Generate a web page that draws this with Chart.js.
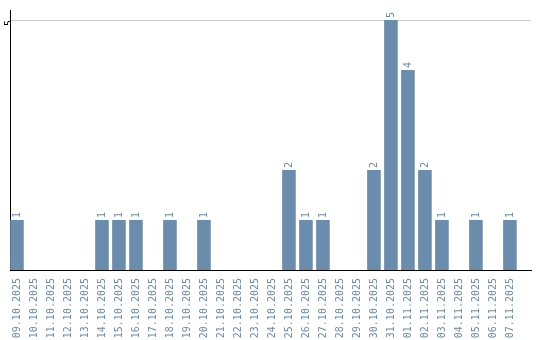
<!DOCTYPE html>
<html>
<head>
<meta charset="utf-8">
<script src="https://cdn.jsdelivr.net/npm/chart.js@4"></script>
<style>
  html, body { margin: 0; padding: 0; background: #fff; overflow: hidden; }
  #wrap { width: 540px; height: 345px; }
</style>
</head>
<body>
<div id="wrap"><canvas id="dayChart"></canvas></div>
<script>
// daily counts
const days = [
  '09.10.2025', '10.10.2025', '11.10.2025', '12.10.2025', '13.10.2025',
  '14.10.2025', '15.10.2025', '16.10.2025', '17.10.2025', '18.10.2025',
  '19.10.2025', '20.10.2025', '21.10.2025', '22.10.2025', '23.10.2025',
  '24.10.2025', '25.10.2025', '26.10.2025', '27.10.2025', '28.10.2025',
  '29.10.2025', '30.10.2025', '31.10.2025', '01.11.2025', '02.11.2025',
  '03.11.2025', '04.11.2025', '05.11.2025', '06.11.2025', '07.11.2025'
];
const counts = [1, 0, 0, 0, 0, 1, 1, 1, 0, 1, 0, 1, 0, 0, 0, 0, 2, 1, 1, 0, 0, 2, 5, 4, 2, 1, 0, 1, 0, 1];
const yTicks = [5];

const barColor = '#6a8cad';
const labelColor = '#6a8bad';
const mono = 'DejaVu Sans Mono';

// rotated value labels above the bars
const valueLabels = {
  id: 'valueLabels',
  afterDatasetsDraw(chart) {
    const ctx = chart.ctx;
    const meta = chart.getDatasetMeta(0);
    ctx.save();
    ctx.font = '10px ' + mono;
    ctx.fillStyle = labelColor;
    ctx.textAlign = 'left';
    ctx.textBaseline = 'middle';
    meta.data.forEach((bar, i) => {
      if (!counts[i]) return;
      ctx.save();
      ctx.translate(bar.x, bar.y - 2);
      ctx.rotate(-Math.PI / 2);
      ctx.fillText(String(counts[i]), 0, 0);
      ctx.restore();
    });
    ctx.restore();
  }
};

const points = counts.map((v, i) => ({ x: i, y: v }));

const ctx1 = document.getElementById('dayChart');
new Chart(ctx1, {
  type: 'bar',
  data: {
    datasets: [{
      data: points,
      backgroundColor: barColor,
      categoryPercentage: 0.8,
      barPercentage: 1
    }]
  },
  options: {
    responsive: true,
    maintainAspectRatio: false,
    animation: false,
    layout: { padding: { top: 10, right: 9, left: 0, bottom: 0 } },
    plugins: { legend: { display: false }, tooltip: { enabled: false } },
    scales: {
      x: {
        type: 'linear',
        offset: false,
        min: -0.41,
        max: 30.24,
        afterBuildTicks(axis) {
          axis.ticks = days.map((d, i) => ({ value: i }));
        },
        afterFit(axis) { axis.height = 75; },
        grid: { display: false },
        border: { color: '#000', width: 1 },
        ticks: {
          color: labelColor,
          font: { family: mono, size: 10 },
          minRotation: 90,
          maxRotation: 90,
          autoSkip: false,
          padding: 0,
          callback: (v) => days[v]
        }
      },
      y: {
        min: 0,
        max: 5.2,
        afterBuildTicks(axis) {
          axis.ticks = yTicks.map(v => ({ value: v }));
        },
        afterFit(axis) { axis.width = 10; },
        grid: { color: '#cccccc', drawTicks: false },
        border: { color: '#000', width: 1 },
        ticks: {
          color: '#000',
          font: { family: mono, size: 10 },
          minRotation: 90,
          maxRotation: 90,
          padding: 1
        }
      }
    }
  },
  plugins: [valueLabels]
});
</script>
</body>
</html>
